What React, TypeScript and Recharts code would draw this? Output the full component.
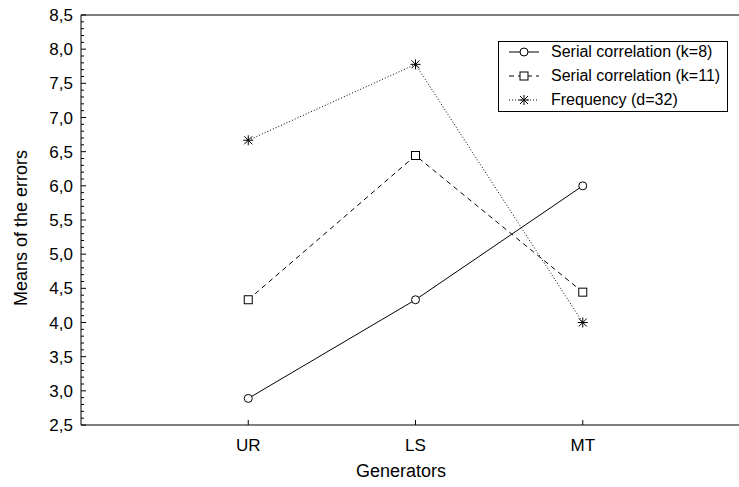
import React from 'react';
import { LineChart, Line, XAxis, YAxis, Legend, ReferenceLine } from 'recharts';

// generator names on the x axis
const categories = ['UR', 'LS', 'MT'];

// means of the errors per generator
const serialK8 = [2.889, 4.333, 6.0];
const serialK11 = [4.333, 6.444, 4.444];
const frequencyD32 = [6.667, 7.778, 4.0];

const yMajorTicks = [2.5, 3.0, 3.5, 4.0, 4.5, 5.0, 5.5, 6.0, 6.5, 7.0, 7.5, 8.0, 8.5];
const xTicks = [1, 2, 3];

const seriesNames = [
  'Serial correlation (k=8)',
  'Serial correlation (k=11)',
  'Frequency (d=32)',
];

const FONT = '"Liberation Sans", Arial, sans-serif';

// minor ticks every 0.1 between the labelled ones
const yTicks: number[] = [];
for (let i = 0; i < yMajorTicks.length - 1; i++) {
  for (let j = 0; j < 5; j++) yTicks.push(Math.round((yMajorTicks[i] + j * 0.1) * 10) / 10);
}
yTicks.push(yMajorTicks[yMajorTicks.length - 1]);

const data = categories.map((name, i) => ({
  pos: xTicks[i],
  name,
  k8: serialK8[i],
  k11: serialK11[i],
  freq: frequencyD32[i],
}));

const isMajor = (v: number) => Math.abs(v * 2 - Math.round(v * 2)) < 1e-6;

const YTick = (props: any) => {
  const { x, y, payload } = props;
  const v = payload.value as number;
  const major = isMajor(v);
  return (
    <g>
      <line x1={x} x2={x + (major ? 5 : 3)} y1={y} y2={y} stroke="#000" />
      {major && (
        <text x={x - 8} y={y} dy={6} textAnchor="end" fontSize={17} fontFamily={FONT} fill="#000">
          {v.toFixed(1).replace('.', ',')}
        </text>
      )}
    </g>
  );
};

const XTick = (props: any) => {
  const { x, y, payload } = props;
  return (
    <g>
      <line x1={x} x2={x} y1={y} y2={y - 5} stroke="#000" />
      <text x={x} y={y + 26} textAnchor="middle" fontSize={17} fontFamily={FONT} fill="#000">
        {categories[payload.value - 1]}
      </text>
    </g>
  );
};

const Circle = ({ cx, cy }: any) => (
  <circle cx={cx} cy={cy} r={4} fill="#fff" stroke="#000" strokeWidth={1} />
);

const Square = ({ cx, cy }: any) => (
  <rect x={cx - 4} y={cy - 4} width={8} height={8} fill="#fff" stroke="#000" strokeWidth={1} />
);

const Star = ({ cx, cy }: any) => (
  <g stroke="#000" strokeWidth={1}>
    <line x1={cx} x2={cx} y1={cy - 5} y2={cy + 5} />
    <line x1={cx - 5} x2={cx + 5} y1={cy} y2={cy} />
    <line x1={cx - 4} x2={cx + 4} y1={cy - 4} y2={cy + 4} />
    <line x1={cx - 4} x2={cx + 4} y1={cy + 4} y2={cy - 4} />
  </g>
);

const markers = [Circle, Square, Star];
const dashes = [undefined, '5 4', '1 2'];

const renderLegend = () => (
  <div
    style={{
      position: 'relative',
      width: 230,
      height: 71,
      boxSizing: 'border-box',
      border: '1px solid #000',
      background: '#fff',
      fontFamily: FONT,
      fontSize: 16,
    }}
  >
    {seriesNames.map((name, i) => {
      const M = markers[i];
      return (
        <div key={name} style={{ position: 'absolute', left: 0, top: i * 24, height: 20, display: 'flex', alignItems: 'center' }}>
          <svg width={48} height={20} style={{ marginLeft: 4 }}>
            <line x1={6} x2={36} y1={10} y2={10} stroke="#000" strokeDasharray={dashes[i]} />
            <M cx={21} cy={10} />
          </svg>
          <span style={{ whiteSpace: 'nowrap', color: '#000' }}>{name}</span>
        </div>
      );
    })}
  </div>
);

export default function App() {
  return (
    <div style={{ position: 'fixed', left: 0, top: 0, width: 739, height: 487, overflow: 'hidden', background: '#fff' }}>
      <LineChart width={760} height={487} data={data} margin={{ top: 15, right: 10, left: 0, bottom: 0 }}>
        <XAxis
          dataKey="pos"
          type="number"
          domain={[0, 4]}
          ticks={xTicks}
          interval={0}
          tick={<XTick />}
          tickLine={false}
          tickSize={0}
          tickMargin={0}
          height={62}
          axisLine={{ stroke: '#000' }}
          label={{
            content: () => (
              <text x={401} y={477} textAnchor="middle" fontSize={18} fontFamily={FONT} fill="#000">
                Generators
              </text>
            ),
          }}
        />
        <YAxis
          type="number"
          domain={[2.5, 8.5]}
          ticks={yTicks}
          interval={0}
          tick={<YTick />}
          tickLine={false}
          tickSize={0}
          tickMargin={0}
          width={81}
          axisLine={{ stroke: '#000' }}
          label={{
            content: () => (
              <text
                x={21}
                y={228}
                transform="rotate(-90, 21, 228)"
                dy={6}
                textAnchor="middle"
                fontSize={18}
                fontFamily={FONT}
                fill="#000"
              >
                Means of the errors
              </text>
            ),
          }}
        />
        <ReferenceLine y={8.5} stroke="#000" />
        <Legend
          layout="vertical"
          align="center"
          verticalAlign="middle"
          content={renderLegend}
          wrapperStyle={{ position: 'absolute', left: 498, top: 41, width: 230, height: 71 }}
        />
        <Line dataKey="k8" name={seriesNames[0]} stroke="#000" strokeWidth={1} dot={<Circle />} activeDot={false} isAnimationActive={false} />
        <Line dataKey="k11" name={seriesNames[1]} stroke="#000" strokeWidth={1} strokeDasharray="5 4" dot={<Square />} activeDot={false} isAnimationActive={false} />
        <Line dataKey="freq" name={seriesNames[2]} stroke="#000" strokeWidth={1} strokeDasharray="1 2" dot={<Star />} activeDot={false} isAnimationActive={false} />
      </LineChart>
    </div>
  );
}
